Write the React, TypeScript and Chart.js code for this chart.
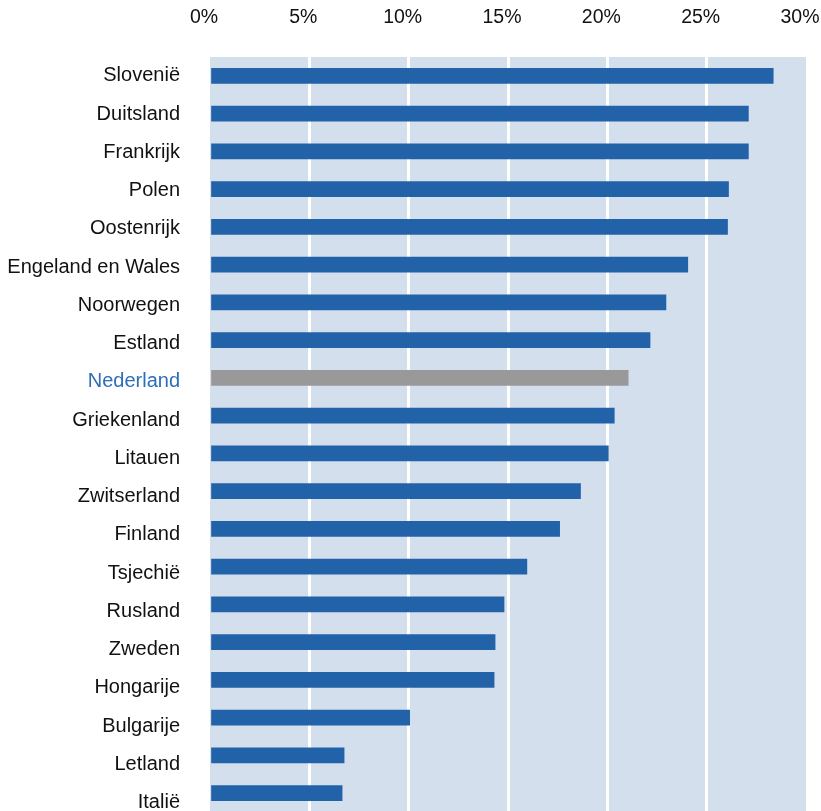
import React, { useEffect, useRef } from "react";
import { Chart, registerables, CategoryScale } from "chart.js";

Chart.register(...registerables);

// Category labels in the source drift slightly downward relative to the bars
class DriftCategoryScale extends (CategoryScale as any) {
  static id = "driftCategory";
  static defaults = (CategoryScale as any).defaults;
  getPixelForTick(index: number) {
    return super.getPixelForTick(index) + index * 0.5;
  }
}
Chart.register(DriftCategoryScale as any);

const countries = [
  "Slovenië",
  "Duitsland",
  "Frankrijk",
  "Polen",
  "Oostenrijk",
  "Engeland en Wales",
  "Noorwegen",
  "Estland",
  "Nederland",
  "Griekenland",
  "Litauen",
  "Zwitserland",
  "Finland",
  "Tsjechië",
  "Rusland",
  "Zweden",
  "Hongarije",
  "Bulgarije",
  "Letland",
  "Italië",
];

const values = [
  28.35, 27.1, 27.1, 26.1, 26.05, 24.05, 22.95, 22.15, 21.05, 20.35, 20.05,
  18.65, 17.6, 15.95, 14.8, 14.35, 14.3, 10.05, 6.75, 6.65,
];

const xTicks = [0, 5, 10, 15, 20, 25, 30];

const highlight = "Nederland";
const BLUE = "#2262A9";
const GREY = "#999999";
const BG = "#D4DFEE";
const LABEL_BLUE = "#2E6DB8";
const FONT = "'Liberation Sans', Arial, sans-serif";

const bgPlugin = {
  id: "plotBg",
  beforeDraw(chart: any) {
    const { ctx, chartArea } = chart;
    if (!chartArea) return;
    ctx.save();
    ctx.fillStyle = BG;
    ctx.fillRect(
      chartArea.left,
      chartArea.top,
      chartArea.right - chartArea.left,
      chartArea.bottom - chartArea.top
    );
    ctx.restore();
  },
};

export default function App() {
  const ref = useRef<HTMLCanvasElement | null>(null);

  useEffect(() => {
    document.body.style.margin = "0";
    const canvas = ref.current;
    if (!canvas) return;
    const chart = new Chart(canvas, {
      type: "bar",
      data: {
        labels: countries,
        datasets: [
          {
            data: values,
            backgroundColor: countries.map((c) => (c === highlight ? GREY : BLUE)),
            barThickness: 15,
            borderWidth: 0,
          },
        ],
      },
      plugins: [bgPlugin],
      options: {
        indexAxis: "y",
        animation: false,
        responsive: false,
        maintainAspectRatio: false,
        layout: { padding: { left: 0, right: 15, top: 0, bottom: 18 } },
        plugins: {
          legend: { display: false },
          tooltip: { enabled: false },
        },
        scales: {
          x: {
            position: "top",
            min: 0,
            max: 30,
            afterBuildTicks: (axis: any) => {
              axis.ticks = xTicks.map((v) => ({ value: v }));
            },
            afterFit: (axis: any) => {
              axis.height = 57;
              axis.paddingLeft = 0;
              axis.paddingRight = 0;
              axis.paddingTop = 0;
              axis.paddingBottom = 0;
            },
            border: { display: false },
            grid: {
              drawTicks: false,
              lineWidth: 3,
              color: (ctx: any) =>
                ctx.tick && (ctx.tick.value === 0 || ctx.tick.value === 30)
                  ? "rgba(0,0,0,0)"
                  : "#FFFFFF",
            },
            ticks: {
              color: "#111111",
              padding: 28,
              labelOffset: -6,
              font: { family: FONT, size: 19.5 },
              callback: (v: any) => `${v}%`,
            },
          },
          y: {
            type: "driftCategory",
            afterFit: (axis: any) => {
              axis.width = 210;
              axis.paddingLeft = 0;
              axis.paddingRight = 0;
              axis.paddingTop = 0;
              axis.paddingBottom = 0;
            },
            border: { display: false },
            grid: { display: false, drawTicks: false },
            ticks: {
              padding: 30,
              color: (ctx: any) =>
                countries[ctx.index] === highlight ? LABEL_BLUE : "#111111",
              font: { family: FONT, size: 20 },
            },
          },
        },
      },
    } as any);
    return () => chart.destroy();
  }, []);

  return (
    <div style={{ position: "relative", width: 821, height: 811, overflow: "hidden" }}>
      <canvas
        ref={ref}
        width={821}
        height={830}
        style={{ display: "block", width: 821, height: 830 }}
      />
    </div>
  );
}
